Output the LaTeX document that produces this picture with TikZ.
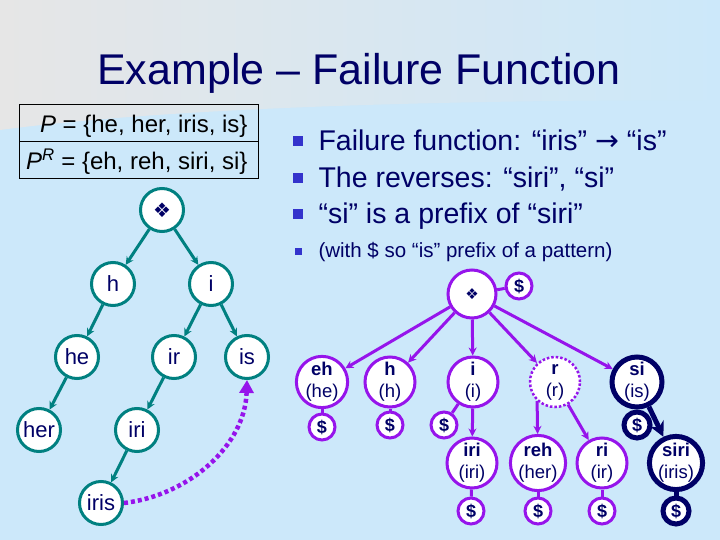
\documentclass[tikz,border=0pt]{standalone}
\usepackage{fontspec}
\setmainfont{Liberation Sans}
\newfontfamily\symfont{DejaVu Sans}
\usetikzlibrary{arrows.meta}

\definecolor{bgblue}{RGB}{204,232,250}
\definecolor{bggray}{RGB}{230,230,230}
\definecolor{navy}{RGB}{0,0,102}
\definecolor{teal}{RGB}{0,128,128}
\definecolor{purp}{RGB}{150,20,235}
\definecolor{bulletblue}{RGB}{51,51,204}

\tikzset{
  tnode/.style={circle, draw=teal, line width=3pt, fill=white, minimum size=43pt,
    inner sep=0pt, text=navy, font=\fontsize{22}{24}\selectfont},
  tedge/.style={draw=teal, line width=3pt, -{Stealth[length=8pt,width=8pt]}},
  pnode/.style={circle, draw=purp, line width=3pt, fill=white, minimum size=50pt,
    inner sep=0pt, text=navy, align=center, font=\fontsize{18.5}{22}\selectfont},
  dnode/.style={circle, draw=purp, line width=3pt, fill=white, minimum size=26pt,
    inner sep=0pt, text=navy, font=\bfseries\fontsize{18}{19}\selectfont},
  pedge/.style={draw=purp, line width=3pt},
  parrow/.style={pedge, -{Stealth[length=8pt,width=8pt]}},
  nedge/.style={draw=navy, line width=5pt},
  narrow/.style={nedge, -{Stealth[length=15pt,width=15pt]}},
  bullet/.style={fill=bulletblue, minimum size=10pt, inner sep=0pt},
  bigtext/.style={anchor=base west, text=navy, font=\fontsize{28.5}{30}\selectfont},
}

\begin{document}
\begin{tikzpicture}[x=1pt,y=-1pt]
\useasboundingbox (0,0) rectangle (720,540);
% background
\fill[bgblue] (0,0) rectangle (720,540);
\shade[left color=bggray, right color=bgblue] (0,0) -- (720,0) -- (720,100)
  .. controls (400,100) and (150,110) .. (0,130) -- cycle;
%
\node (title) at (359,85) [anchor=base, text=navy, font=\fontsize{43}{50}\selectfont]
  {Example – Failure Function};
%
\draw[line width=1pt] (19,105) rectangle (258,179);
\draw[line width=1pt] (19,142) -- (258,142);
\node (pset)  at (251,133) [anchor=base east, font=\fontsize{24}{25}\selectfont]
  {\textit{P} = \{he, her, iris, is\}};
\node (prset) at (251,170) [anchor=base east, font=\fontsize{24}{25}\selectfont]
  {\textit{P\textsuperscript{R}} = \{eh, reh, siri, si\}};
%
\node (b1) at (298,141) [bullet] {};
\node (b2) at (298,178) [bullet] {};
\node (b3) at (298,214) [bullet] {};
\node (b4) at (298,251) [bullet, minimum size=7pt] {};
\node (t1) at (315,151) [bigtext] {Failure function: “iris” {\symfont →} “is”};
\node (t2) at (315,188) [bigtext] {The reverses: “siri”, “si”};
\node (t3) at (315,224) [bigtext] {“si” is a prefix of “siri”};
\node (t4) at (315,257) [bigtext, font=\fontsize{20.5}{23}\selectfont]
  {(with \$ so “is” prefix of a pattern)};
%
% trie of P
\node (root) at (162,210) [tnode, font=\symfont\fontsize{20}{22}\selectfont] {❖};
\node (h)    at (113,284) [tnode] {h};
\node (i)    at (211,284) [tnode] {i};
\node (he)   at (77,357)  [tnode] {he};
\node (ir)   at (174,357) [tnode] {ir};
\node (is)   at (247,357) [tnode] {is};
\node (her)  at (39,430)  [tnode] {her};
\node (iri)  at (137,430) [tnode] {iri};
\node (iris) at (101,503) [tnode] {iris};
%
\draw[tedge] (root) -- (h);
\draw[tedge] (root) -- (i);
\draw[tedge] (h) -- (he);
\draw[tedge] (he) -- (her);
\draw[tedge] (i) -- (ir);
\draw[tedge] (i) -- (is);
\draw[tedge] (ir) -- (iri);
\draw[tedge] (iri) -- (iris);
% failure link
\draw[draw=purp, line width=4.5pt, dash pattern=on 4pt off 3pt,
  -{Triangle[length=13pt,width=14pt]}]
  (iris.east) .. controls (190,495) and (245,445) .. (is.south);
%
% trie of the reverses
\node (rroot) at (472,294) [pnode, minimum size=48pt, font=\symfont\fontsize{15}{17}\selectfont] {❖};
\node (rd)    at (519,286) [dnode] {\$};
\node (eh)    at (322,382) [pnode] {\textbf{eh}\\(he)};
\node (rh)    at (390,382) [pnode] {\textbf{h}\\(h)};
\node (ri1)   at (473,382) [pnode] {\textbf{i}\\(i)};
\node (rr)    at (555,382) [pnode, line width=2.5pt, dash pattern=on 2.5pt off 2pt] {\textbf{r}\\(r)};
\node (si)    at (637,382) [pnode, draw=navy, line width=5pt] {\textbf{si}\\(is)};
%
\node (ehd)   at (322,427) [dnode] {\$};
\node (rhd)   at (390,425) [dnode] {\$};
\node (ri1d)  at (444,425) [dnode] {\$};
\node (sid)   at (637,425) [dnode, draw=navy, line width=5pt] {\$};
%
\node (siri)  at (472,463) [pnode] {\textbf{iri}\\(iri)};
\node (reh)   at (538,463) [pnode] {\textbf{reh}\\(her)};
\node (rri)   at (602,463) [pnode] {\textbf{ri}\\(ir)};
\node (riris) at (676,463) [pnode, draw=navy, line width=5pt] {\textbf{siri}\\(iris)};
%
\node (sirid)  at (471,511) [dnode] {\$};
\node (rehd)   at (538,511) [dnode] {\$};
\node (rrid)   at (602,511) [dnode] {\$};
\node (ririsd) at (676,511) [dnode, draw=navy, line width=5pt] {\$};
%
\draw[pedge]  (rroot) -- (rd);
\draw[parrow] (rroot) -- (eh);
\draw[parrow] (rroot) -- (rh);
\draw[parrow] (rroot) -- (ri1);
\draw[parrow] (rroot) -- (rr);
\draw[parrow] (rroot) -- (si);
\draw[pedge]  (eh) -- (ehd);
\draw[pedge]  (rh) -- (rhd);
\draw[pedge]  (ri1) -- (ri1d);
\draw[parrow] (ri1) -- (siri);
\draw[parrow] (rr.-133) -- (reh);
\draw[parrow] (rr) -- (rri);
\draw[nedge]  (si) -- (sid);
\draw[narrow] (si) -- (riris);
\draw[pedge]  (siri) -- (sirid);
\draw[pedge]  (reh) -- (rehd);
\draw[pedge]  (rri) -- (rrid);
\draw[nedge]  (riris) -- (ririsd);
\end{tikzpicture}
\end{document}
